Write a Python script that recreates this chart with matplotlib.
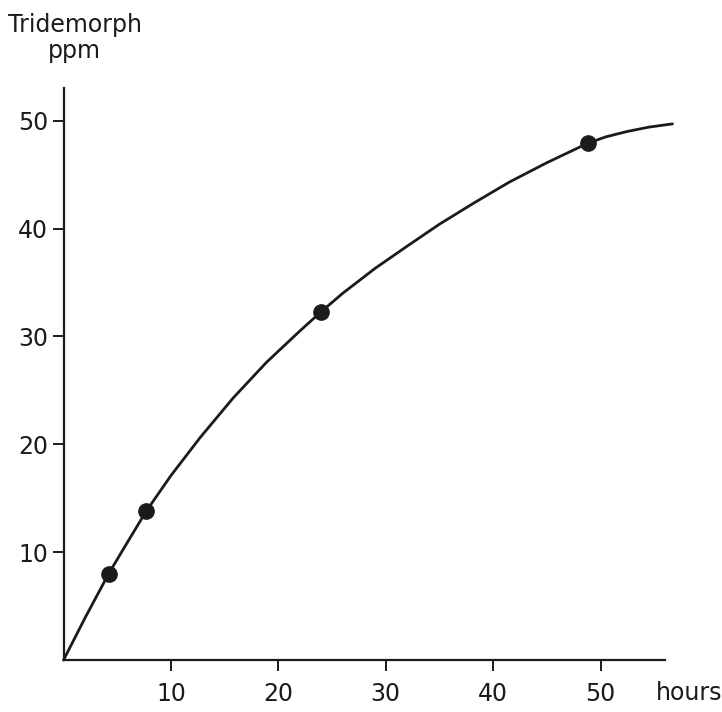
import matplotlib.pyplot as plt

# measured tridemorph concentration
hours = [4.2, 7.7, 24.0, 48.8]
ppm = [8.0, 13.8, 32.3, 47.9]

# hand-drawn trend curve through the measurements
curve_x = [0, 2, 4.2, 6, 7.7, 10, 12.7, 15.8, 18.9, 22.0, 24.0, 26.0, 29.0,
           31.9, 35.0, 38.1, 41.5, 45.0, 48.8, 50.5, 52.5, 54.5, 56.7]
curve_y = [0, 3.9, 8.0, 11.0, 13.8, 17.1, 20.6, 24.3, 27.6, 30.5, 32.3, 34.0,
           36.3, 38.3, 40.4, 42.3, 44.3, 46.1, 47.9, 48.5, 49.0, 49.4, 49.7]

xticks = [10, 20, 30, 40, 50]
yticks = [10, 20, 30, 40, 50]

ink = '#1c1a1a'

fig = plt.figure(figsize=(7.22, 7.12), dpi=100)
ax = fig.add_axes([0.088, 0.073, 0.833, 0.803])

ax.plot(curve_x, curve_y, color=ink, lw=2.0, solid_capstyle='round',
        solid_joinstyle='round', clip_on=False)
ax.plot(hours, ppm, 'o', color=ink, markersize=11, clip_on=False)

ax.set_xlim(0, 56)
ax.set_ylim(0, 53)
ax.set_xticks(xticks)
ax.set_yticks(yticks)
ax.set_xticklabels([str(t) for t in xticks])
ax.set_yticklabels([str(t) for t in yticks])

for s in ['top', 'right']:
    ax.spines[s].set_visible(False)
for s in ['left', 'bottom']:
    ax.spines[s].set_color(ink)
    ax.spines[s].set_linewidth(1.6)
ax.tick_params(direction='out', length=8, width=1.4, color=ink,
               labelsize=17, labelcolor=ink)
ax.tick_params(axis='x', pad=8)
ax.tick_params(axis='y', pad=3)

fig.text(0.011, 0.965, 'Tridemorph', fontsize=17, color=ink, va='center')
fig.text(0.066, 0.928, 'ppm', fontsize=17, color=ink, va='center')
fig.text(0.908, 0.026, 'hours', fontsize=17, color=ink, va='center')

fig.savefig('out.png', dpi=100, facecolor='white')
